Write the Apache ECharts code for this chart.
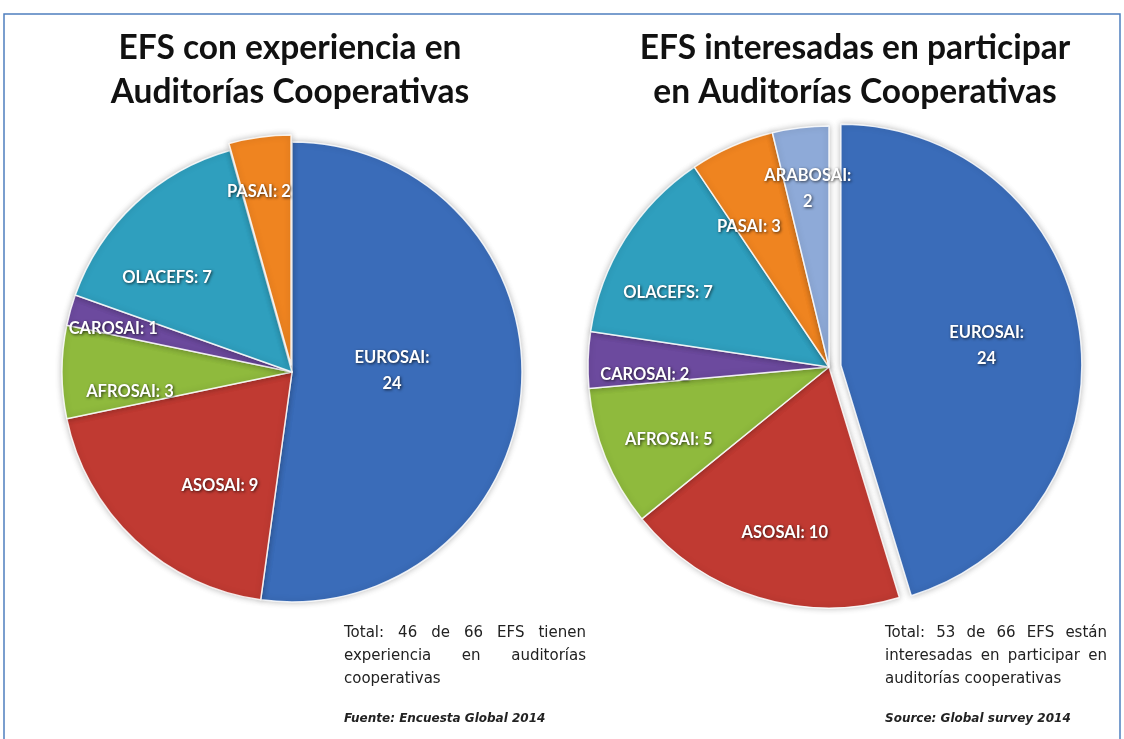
<!DOCTYPE html>
<html>
<head>
<meta charset="utf-8">
<script src="https://cdn.jsdelivr.net/npm/echarts@6/dist/echarts.min.js"></script>
<style>
html, body { margin: 0; padding: 0; background: #fff; }
#main { width: 1124px; height: 739px; }
</style>
</head>
<body>
<div id="main"></div>
<script>
// data
var regionsLeft = ['EUROSAI', 'ASOSAI', 'AFROSAI', 'CAROSAI', 'OLACEFS', 'PASAI'];
var valuesLeft = [24, 9, 3, 1, 7, 2];
var regionsRight = ['EUROSAI', 'ASOSAI', 'AFROSAI', 'CAROSAI', 'OLACEFS', 'PASAI', 'ARABOSAI'];
var valuesRight = [24, 10, 5, 2, 7, 3, 2];
var titleLeft = 'EFS con experiencia en\nAuditorías Cooperativas';
var titleRight = 'EFS interesadas en participar\nen Auditorías Cooperativas';
var noteLeft = ['Total: 46 de 66 EFS tienen', 'experiencia en auditorías', 'cooperativas'];
var noteRight = ['Total: 53 de 66 EFS están', 'interesadas en participar en', 'auditorías cooperativas'];
var sourceLeft = 'Fuente: Encuesta Global 2014';
var sourceRight = 'Source: Global survey 2014';

// style
var colors = {
    EUROSAI: '#3a6cb9',
    ASOSAI: '#c03a32',
    AFROSAI: '#8fba3d',
    CAROSAI: '#6c4a9e',
    OLACEFS: '#2f9fbe',
    PASAI: '#ef8420',
    ARABOSAI: '#8eaad8'
};
var twoLine = ['EUROSAI', 'ARABOSAI'];
// label placement: [angle shift in degrees, fraction of radius]
var pieL = {cx: 292, cy: 372, r: 230, exploded: 'PASAI', offset: 7,
    labelPos: [[-4.5, 0.435], [-10.7, 0.585], [-7, 0.71], [-2, 0.8], [-10, 0.68], [-2.7, 0.765]]};
var pieR = {cx: 829, cy: 367, r: 241, exploded: 'EUROSAI', offset: 12,
    labelPos: [[1, 0.61], [-2, 0.71], [-2.4, 0.73], [-4, 0.765], [-7.6, 0.735], [-6, 0.67], [0, 0.745]]};

function pieData(names, values, pie, labelsOnly) {
    return names.map(function (n, i) {
        return {
            name: n,
            value: values[i],
            selected: n === pie.exploded,
            itemStyle: {color: labelsOnly ? 'rgba(0,0,0,0)' : colors[n]},
            label: {formatter: twoLine.indexOf(n) >= 0 ? '{b}:\n{c}' : '{b}: {c}'}
        };
    });
}

function labelPlacer(pie) {
    return function (p) {
        var lx = p.labelRect.x + p.labelRect.width / 2;
        var ly = p.labelRect.y + p.labelRect.height / 2;
        var ang = Math.atan2(lx - pie.cx, -(ly - pie.cy));
        var pos = pie.labelPos[p.dataIndex];
        var a = ang + pos[0] * Math.PI / 180;
        var tx = pie.cx + Math.sin(a) * pos[1] * pie.r;
        var ty = pie.cy - Math.cos(a) * pos[1] * pie.r;
        return {dx: tx - lx, dy: ty - ly};
    };
}

// labelsOnly: a transparent copy on top, so the exploded slice never hides a label
function pieSeries(names, values, pie, labelsOnly) {
    return {
        type: 'pie',
        z: labelsOnly ? 5 : 2,
        center: [pie.cx, pie.cy],
        radius: [0, pie.r],
        startAngle: 90,
        clockwise: true,
        selectedMode: 'single',
        selectedOffset: pie.offset,
        avoidLabelOverlap: false,
        animation: false,
        silent: true,
        itemStyle: labelsOnly ? {borderWidth: 0} : {
            borderColor: 'rgba(255,255,255,0.85)',
            borderWidth: 1.5,
            shadowBlur: 6,
            shadowColor: 'rgba(0,0,0,0.25)'
        },
        label: {
            show: !!labelsOnly,
            position: 'inside',
            color: '#fff',
            fontFamily: 'Lato',
            fontWeight: 'bold',
            fontSize: 16.5,
            lineHeight: 26,
            align: 'center',
            overflow: 'none',
            textShadowColor: 'rgba(0,0,0,0.7)',
            textShadowBlur: 3,
            textShadowOffsetX: 1,
            textShadowOffsetY: 1
        },
        labelLine: {show: false},
        labelLayout: labelPlacer(pie),
        data: pieData(names, values, pie, labelsOnly)
    };
}

// justified note text, one word at a time
var measureCtx = document.createElement('canvas').getContext('2d');
function noteElements(lines, x, y, width, font, lineH) {
    measureCtx.font = font;
    var els = [];
    lines.forEach(function (line, li) {
        var words = line.split(' ');
        var last = li === lines.length - 1;
        var total = 0;
        words.forEach(function (w) { total += measureCtx.measureText(w).width; });
        var gap = (last || words.length < 2) ? measureCtx.measureText(' ').width
            : (width - total) / (words.length - 1);
        var cx = x;
        words.forEach(function (w) {
            els.push({
                type: 'text', x: cx, y: y + li * lineH,
                style: {text: w, font: font, fill: '#222', verticalAlign: 'middle', textVerticalAlign: 'middle'}
            });
            cx += measureCtx.measureText(w).width + gap;
        });
    });
    return els;
}

var chartDom = document.getElementById('main');
var chart = echarts.init(chartDom);

var noteFont = '15px "DejaVu Sans"';
var srcFont = 'italic bold 12px "DejaVu Sans"';
var titleFont = 'bold 33.5px Lato';

var graphics = [
    {type: 'rect', z: -1, shape: {x: 4, y: 14, width: 1116, height: 740},
        style: {fill: 'none', stroke: '#4f7fbf', lineWidth: 1.5}},
    {type: 'text', x: 290, y: 26,
        style: {text: titleLeft, font: titleFont, fill: '#111', align: 'center', textAlign: 'center',
            verticalAlign: 'top', textVerticalAlign: 'top', lineHeight: 44}},
    {type: 'text', x: 855, y: 26,
        style: {text: titleRight, font: titleFont, fill: '#111', align: 'center', textAlign: 'center',
            verticalAlign: 'top', textVerticalAlign: 'top', lineHeight: 44}},
    {type: 'text', x: 344, y: 719,
        style: {text: sourceLeft, font: srcFont, fill: '#222', verticalAlign: 'middle', textVerticalAlign: 'middle'}},
    {type: 'text', x: 885, y: 719,
        style: {text: sourceRight, font: srcFont, fill: '#222', verticalAlign: 'middle', textVerticalAlign: 'middle'}}
].concat(noteElements(noteLeft, 344, 633, 242, noteFont, 23))
 .concat(noteElements(noteRight, 885, 633, 222, noteFont, 23));

var option = {
    backgroundColor: '#fff',
    animation: false,
    graphic: graphics,
    series: [
        pieSeries(regionsLeft, valuesLeft, pieL, false),
        pieSeries(regionsRight, valuesRight, pieR, false),
        pieSeries(regionsLeft, valuesLeft, pieL, true),
        pieSeries(regionsRight, valuesRight, pieR, true)
    ]
};
chart.setOption(option);
</script>
</body>
</html>
